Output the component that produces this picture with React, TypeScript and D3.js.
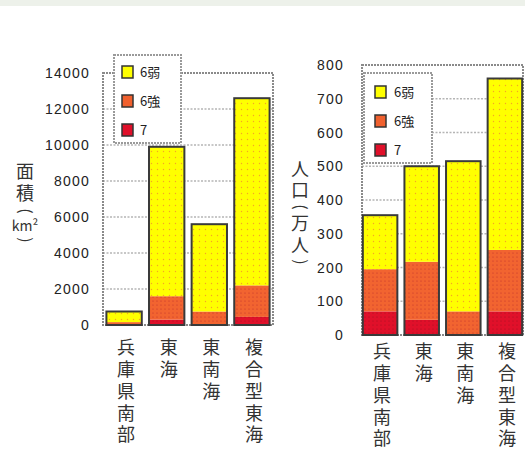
import React from "react";
import * as d3 from "d3";

const categories = ["兵庫県南部", "東海", "東南海", "複合型東海"];
const seriesNames = ["6弱", "6強", "7"];
const seriesKeys = ["w6", "s6", "i7"];
const area7 = [40, 300, 0, 450];
const area6s = [120, 1300, 750, 1750];
const area6w = [590, 8300, 4850, 10400];
const pop7 = [70, 45, 0, 70];
const pop6s = [125, 172, 70, 182];
const pop6w = [160, 283, 445, 508];
const areaTicks = [0, 2000, 4000, 6000, 8000, 10000, 12000, 14000];
const popTicks = [0, 100, 200, 300, 400, 500, 600, 700, 800];

const COLORS: Record<string, string> = { w6: "url(#patY)", s6: "url(#patO)", i7: "url(#patR)" };
const SW: Record<string, string> = { w6: "#ffff00", s6: "#f0602e", i7: "#e0102a" };

const NUM_FONT = "'Liberation Sans', Arial, sans-serif";
const JP_FONT = "'Noto Sans CJK JP', 'Noto Sans', sans-serif";

type TitleItem = { t: string; y: number; size: number; rot?: boolean };
type Panel = {
  v7: number[]; v6s: number[]; v6w: number[]; ticks: number[]; max: number;
  x0: number; x1: number; y0: number; y1: number; po: number;
  tickRight: number; legend: { x: number; y: number; w: number; h: number; sx: number; lx: number; rows: number[] };
  catY: number; axisTitle: { x: number; items: TitleItem[] };
};

function Chart({ p }: { p: Panel }) {
  const rows = categories.map((c, i) => ({ cat: c, i7: p.v7[i], s6: p.v6s[i], w6: p.v6w[i] }));
  const stack = d3.stack<any>().keys(["i7", "s6", "w6"])(rows);
  const x = d3.scaleBand().domain(categories).range([p.x0, p.x1]).paddingInner(0.17).paddingOuter(p.po);
  const y = d3.scaleLinear().domain([0, p.max]).range([p.y0, p.y1]);
  return (
    <g>
      {p.ticks.map((t) => (
        <g key={t}>
          {t > 0 && t < p.max && (
            <line x1={p.x0} x2={p.x1} y1={y(t)} y2={y(t)} stroke="#b5b5b5" strokeWidth={1.5} strokeDasharray="2,1.5" />
          )}
          <text x={p.tickRight} y={y(t)} dy="0.36em" textAnchor="end" fontFamily={NUM_FONT} fontSize={14}
            letterSpacing={1.2} fill="#222">{t}</text>
        </g>
      ))}
      <rect x={p.x0} y={p.y1} width={p.x1 - p.x0} height={p.y0 - p.y1} fill="none" stroke="#8a8a8a" strokeWidth={2} strokeDasharray="2,1" />
      {stack.map((s) => (
        <g key={s.key}>
          {s.map((d, i) => (
            d[1] - d[0] > 0 ? (
              <rect key={i} x={x(categories[i])!} y={y(d[1])} width={x.bandwidth()} height={y(d[0]) - y(d[1])}
                fill={COLORS[s.key as string]} />
            ) : null
          ))}
        </g>
      ))}
      {rows.map((r, i) => (
        <rect key={i} x={x(categories[i])!} y={y(r.i7 + r.s6 + r.w6)} width={x.bandwidth()}
          height={p.y0 - y(r.i7 + r.s6 + r.w6)} fill="none" stroke="#3a3a3a" strokeWidth={2} />
      ))}
      <rect x={p.legend.x} y={p.legend.y} width={p.legend.w} height={p.legend.h} fill="#fff" stroke="#9a9a9a" strokeWidth={2} strokeDasharray="2,1" />
      {seriesKeys.map((k, j) => (
        <g key={k}>
          <rect x={p.legend.sx} y={p.legend.rows[j] - 6} width={11} height={12} fill={SW[k]} stroke="#333" strokeWidth={1.5} />
          <text x={p.legend.lx} y={p.legend.rows[j]} dy="0.36em" fontFamily={JP_FONT} fontSize={13} fill="#222">{seriesNames[j]}</text>
        </g>
      ))}
      {categories.map((c, i) => (
        <g key={c}>
          {Array.from(c).map((ch, k) => (
            <text key={k} x={x(c)! + x.bandwidth() / 2 + 2} y={p.catY + k * 21.7} dy="0.36em" textAnchor="middle"
              fontFamily={JP_FONT} fontSize={18} fill="#333">{ch}</text>
          ))}
        </g>
      ))}
      {p.axisTitle.items.map((it, k) => (
        it.rot ? (
          <text key={k} x={p.axisTitle.x} y={it.y} dy="0.3em" textAnchor="middle" fontFamily={JP_FONT}
            fontSize={it.size} fill="#333" transform={`rotate(90, ${p.axisTitle.x}, ${it.y})`}>{it.t}</text>
        ) : (
          <text key={k} x={p.axisTitle.x} y={it.y} dy="0.36em" textAnchor="middle" fontFamily={JP_FONT}
            fontSize={it.size} fill="#333">{it.t}</text>
        )
      ))}
    </g>
  );
}

const leftPanel: Panel = {
  v7: area7, v6s: area6s, v6w: area6w, ticks: areaTicks, max: 14000,
  x0: 103, x1: 273, y0: 325, y1: 73, po: 0.08, tickRight: 90,
  legend: { x: 114, y: 55, w: 67, h: 88, sx: 122, lx: 140, rows: [72, 101, 130] },
  catY: 348,
  axisTitle: { x: 25, items: [
    { t: "面", y: 172, size: 18 }, { t: "積", y: 194, size: 18 }, { t: "(", y: 211, size: 16, rot: true },
    { t: "km²", y: 226, size: 14 }, { t: ")", y: 240, size: 16, rot: true },
  ] },
};

const rightPanel: Panel = {
  v7: pop7, v6s: pop6s, v6w: pop6w, ticks: popTicks, max: 800,
  x0: 362, x1: 523, y0: 335, y1: 65, po: 0.02, tickRight: 344,
  legend: { x: 364, y: 73, w: 68, h: 90, sx: 375, lx: 394, rows: [92, 121, 150] },
  catY: 352,
  axisTitle: { x: 300, items: [
    { t: "人", y: 170, size: 18 }, { t: "口", y: 191, size: 18 }, { t: "(", y: 207, size: 16, rot: true },
    { t: "万", y: 224, size: 18 }, { t: "人", y: 246, size: 18 }, { t: ")", y: 262, size: 16, rot: true },
  ] },
};

export default function App() {
  return (
    <svg width={525} height={450} style={{ position: "absolute", left: 0, top: 0, background: "#fff" }}>
      <defs>
        <pattern id="patY" width={6} height={6} patternUnits="userSpaceOnUse">
          <rect width={6} height={6} fill="#ffff00" />
          <circle cx={1.5} cy={1.5} r={0.7} fill="#f5a623" />
        </pattern>
        <pattern id="patO" width={4} height={4} patternUnits="userSpaceOnUse">
          <rect width={4} height={4} fill="#f26430" />
          <circle cx={1} cy={1} r={0.6} fill="#c0302a" />
        </pattern>
        <pattern id="patR" width={4} height={4} patternUnits="userSpaceOnUse">
          <rect width={4} height={4} fill="#e0102a" />
          <circle cx={1} cy={1} r={0.6} fill="#a01020" />
        </pattern>
      </defs>
      <rect x={0} y={0} width={525} height={6} fill="#edf1ea" />
      <Chart p={leftPanel} />
      <Chart p={rightPanel} />
    </svg>
  );
}
